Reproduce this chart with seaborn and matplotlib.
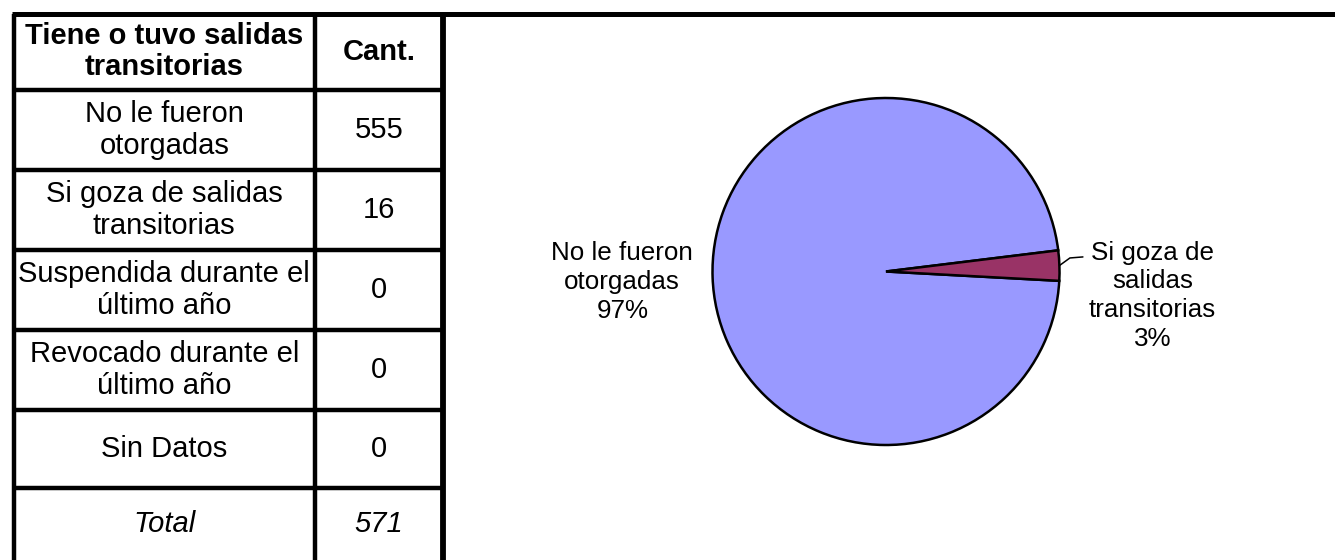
import numpy as np
import matplotlib
matplotlib.use("Agg")
import matplotlib.pyplot as plt
import seaborn as sns

# table data
header = ["Tiene o tuvo salidas\ntransitorias", "Cant."]
categories = ["No le fueron\notorgadas", "Si goza de salidas\ntransitorias",
              "Suspendida durante el\núltimo año", "Revocado durante el\núltimo año",
              "Sin Datos"]
counts = [555, 16, 0, 0, 0]
total_label = "Total"

# pie labels (wrapped like the original chart)
pie_labels = ["No le fueron\notorgadas", "Si goza de\nsalidas\ntransitorias"]
pie_colors = ["#9999FF", "#993366"]

sns.set_style("white")
plt.rcParams['font.family'] = ['Liberation Sans', 'DejaVu Sans']
plt.rcParams['text.color'] = 'black'

W, H = 1335, 560
fig = plt.figure(figsize=(W / 100, H / 100), dpi=100)

# overlay axes in pixel coords for the table
tab = fig.add_axes([0, 0, 1, 1])
tab.set_xlim(0, W)
tab.set_ylim(H, 0)
tab.axis("off")

lw = 3.2
x_left, x_mid, x_right = 13.5, 315, 443
row_edges = [13.5, 90, 170, 250, 330, 410, 488, 560]

# top rule across the whole figure
tab.plot([12, W], [13.5, 13.5], color="black", lw=3.6, solid_capstyle="butt")
for y in row_edges[1:-1]:
    tab.plot([x_left, x_right], [y, y], color="black", lw=lw, solid_capstyle="butt")
for x in [x_left, x_mid, x_right]:
    tab.plot([x, x], [13.5, H], color="black", lw=lw if x != x_right else 4.2,
             solid_capstyle="butt")

c1 = (x_left + x_mid) / 2
c2 = (x_mid + x_right) / 2
fs = 21
ls = 1.15
centers = [(row_edges[i] + row_edges[i + 1]) / 2 for i in range(len(row_edges) - 1)]

tab.text(c1, centers[0], header[0], ha="center", va="center", fontsize=fs,
         fontweight="bold", linespacing=ls)
tab.text(c2, centers[0], header[1], ha="center", va="center", fontsize=fs,
         fontweight="bold")
for i, (cat, n) in enumerate(zip(categories, counts)):
    yc = centers[i + 1]
    tab.text(c1, yc, cat, ha="center", va="center", fontsize=fs, linespacing=ls)
    tab.text(c2, yc, str(n), ha="center", va="center", fontsize=fs)
tab.text(c1, centers[-1], total_label, ha="center", va="center", fontsize=fs,
         style="italic")
tab.text(c2, centers[-1], str(sum(counts)), ha="center", va="center", fontsize=fs,
         style="italic")

# pie
cx, cy, r = 886, 271.5, 173.5
pie_ax = fig.add_axes([(cx - r) / W, (H - cy - r) / H, 2 * r / W, 2 * r / H])
vals = [c for c in counts if c > 0]
wedges, _ = pie_ax.pie(vals, colors=pie_colors, startangle=7, counterclock=True,
                       wedgeprops=dict(edgecolor="black", linewidth=1.8))
pie_ax.set_xlim(-1, 1)
pie_ax.set_ylim(-1, 1)
pie_ax.set_aspect("equal")
pie_ax.axis("off")

pcts = np.array(vals) / sum(vals) * 100
pfs = 18.7
pie_ax.text(-1.52, -0.06, f"{pie_labels[0]}\n{pcts[0]:.0f}%", ha="center",
            va="center", fontsize=pfs, linespacing=1.25)
pie_ax.text(1.535, -0.14, f"{pie_labels[1]}\n{pcts[1]:.0f}%", ha="center",
            va="center", fontsize=pfs, linespacing=1.25)

# leader line for small slice
w = wedges[1]
mid = np.deg2rad((w.theta1 + w.theta2) / 2)
x0, y0 = np.cos(mid), np.sin(mid)
pie_ax.plot([x0, 1.06, 1.135], [y0, 0.078, 0.084], color="black", lw=1.1,
            clip_on=False, solid_joinstyle="miter")

fig.savefig("out.png", dpi=100, facecolor="white")
